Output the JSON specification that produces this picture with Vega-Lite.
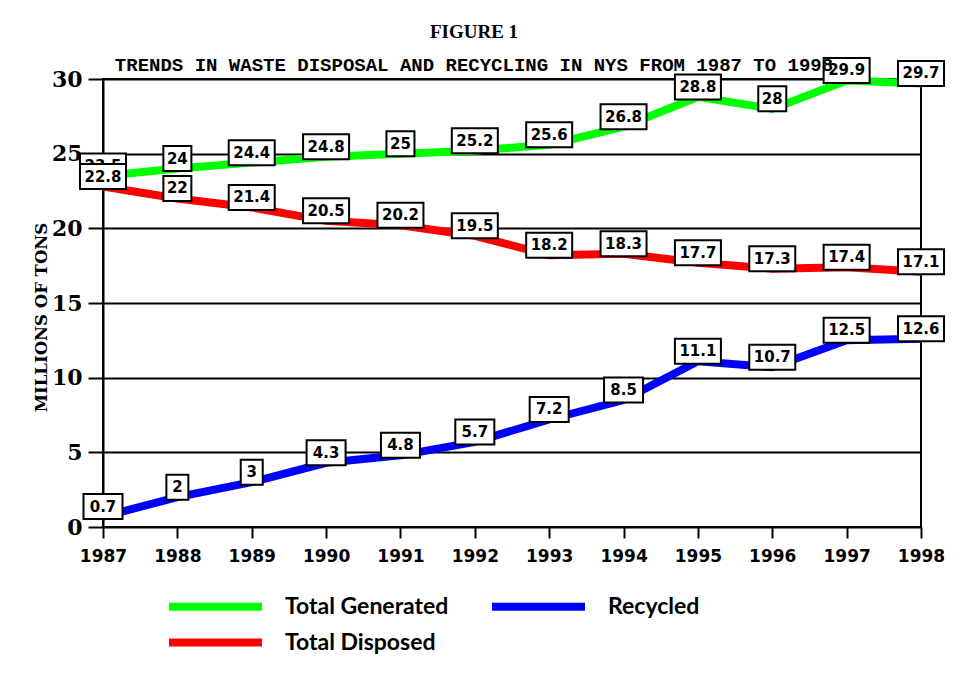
{
  "$schema": "https://vega.github.io/schema/vega-lite/v6.json",
  "autosize": {"type": "none"},
  "padding": {"left": 103, "top": 79, "right": 50, "bottom": 164},
  "width": 818,
  "height": 448,
  "background": "white",
  "config": {"view": {"stroke": "black", "strokeWidth": 2}},
  "title": {
    "text": "FIGURE 1",
    "subtitle": "TRENDS IN WASTE DISPOSAL AND RECYCLING IN NYS FROM 1987 TO 1998",
    "anchor": "middle",
    "frame": "group",
    "dx": -38,
    "font": "Liberation Serif",
    "fontSize": 19,
    "fontWeight": "bold",
    "color": "black",
    "subtitleFont": "Liberation Mono",
    "subtitleFontSize": 19,
    "subtitleFontWeight": "bold",
    "subtitleColor": "black",
    "subtitlePadding": 14,
    "offset": -21,
    "zindex": -1
  },
  "data": {
    "values": [
      {"year": 1987, "series": "Total Generated", "value": 23.5},
      {"year": 1988, "series": "Total Generated", "value": 24},
      {"year": 1989, "series": "Total Generated", "value": 24.4},
      {"year": 1990, "series": "Total Generated", "value": 24.8},
      {"year": 1991, "series": "Total Generated", "value": 25},
      {"year": 1992, "series": "Total Generated", "value": 25.2},
      {"year": 1993, "series": "Total Generated", "value": 25.6},
      {"year": 1994, "series": "Total Generated", "value": 26.8},
      {"year": 1995, "series": "Total Generated", "value": 28.8},
      {"year": 1996, "series": "Total Generated", "value": 28},
      {"year": 1997, "series": "Total Generated", "value": 29.9},
      {"year": 1998, "series": "Total Generated", "value": 29.7},
      {"year": 1987, "series": "Recycled", "value": 0.7},
      {"year": 1988, "series": "Recycled", "value": 2},
      {"year": 1989, "series": "Recycled", "value": 3},
      {"year": 1990, "series": "Recycled", "value": 4.3},
      {"year": 1991, "series": "Recycled", "value": 4.8},
      {"year": 1992, "series": "Recycled", "value": 5.7},
      {"year": 1993, "series": "Recycled", "value": 7.2},
      {"year": 1994, "series": "Recycled", "value": 8.5},
      {"year": 1995, "series": "Recycled", "value": 11.1},
      {"year": 1996, "series": "Recycled", "value": 10.7},
      {"year": 1997, "series": "Recycled", "value": 12.5},
      {"year": 1998, "series": "Recycled", "value": 12.6},
      {"year": 1987, "series": "Total Disposed", "value": 22.8},
      {"year": 1988, "series": "Total Disposed", "value": 22},
      {"year": 1989, "series": "Total Disposed", "value": 21.4},
      {"year": 1990, "series": "Total Disposed", "value": 20.5},
      {"year": 1991, "series": "Total Disposed", "value": 20.2},
      {"year": 1992, "series": "Total Disposed", "value": 19.5},
      {"year": 1993, "series": "Total Disposed", "value": 18.2},
      {"year": 1994, "series": "Total Disposed", "value": 18.3},
      {"year": 1995, "series": "Total Disposed", "value": 17.7},
      {"year": 1996, "series": "Total Disposed", "value": 17.3},
      {"year": 1997, "series": "Total Disposed", "value": 17.4},
      {"year": 1998, "series": "Total Disposed", "value": 17.1}
    ]
  },
  "transform": [
    {"calculate": "'' + length(toString(datum.value))", "as": "n"}
  ],
  "encoding": {
    "x": {
      "field": "year",
      "type": "quantitative",
      "scale": {"domain": [1987, 1998], "nice": false, "zero": false},
      "axis": {
        "values": [1987, 1988, 1989, 1990, 1991, 1992, 1993, 1994, 1995, 1996, 1997, 1998],
        "format": "d",
        "title": null,
        "grid": false,
        "domain": false,
        "tickSize": 11,
        "tickWidth": 2,
        "tickColor": "black",
        "labelFont": "DejaVu Sans",
        "labelFontWeight": "bold",
        "labelFontSize": 17,
        "labelColor": "black",
        "labelPadding": 10,
        "labelFlush": false,
        "labelOverlap": false
      }
    },
    "y": {
      "field": "value",
      "type": "quantitative",
      "scale": {"domain": [0, 30], "nice": false},
      "axis": {
        "values": [0, 5, 10, 15, 20, 25, 30],
        "title": "MILLIONS OF TONS",
        "grid": true,
        "gridColor": "black",
        "gridWidth": 2,
        "gridOpacity": 1,
        "domain": true,
        "domainColor": "black",
        "domainWidth": 2,
        "tickSize": 15,
        "tickWidth": 2,
        "tickColor": "black",
        "labelFont": "DejaVu Serif",
        "labelFontWeight": "bold",
        "labelFontSize": 22,
        "labelColor": "black",
        "labelPadding": 6,
        "titleFont": "DejaVu Serif",
        "titleFontSize": 16.5,
        "titleFontWeight": "bold",
        "titleColor": "black",
        "titlePadding": 2,
        "titleY": 238
      }
    }
  },
  "layer": [
    {
      "mark": {"type": "line", "strokeWidth": 8, "strokeCap": "butt"},
      "encoding": {
        "color": {
          "field": "series",
          "type": "nominal",
          "scale": {
            "domain": ["Total Generated", "Recycled", "Total Disposed"],
            "range": ["#00FF00", "#0000FF", "#FF0000"]
          },
          "legend": {
            "orient": "none",
            "direction": "horizontal",
            "legendX": 93,
            "legendY": 508,
            "columns": 2,
            "title": null,
            "symbolType": "M-3,0H3",
            "symbolSize": 961,
            "symbolStrokeWidth": 8,
            "labelFont": "Lato",
            "labelFontWeight": "bold",
            "labelFontSize": 23,
            "labelColor": "black",
            "labelOffset": 50,
            "labelLimit": 400,
            "columnPadding": 27,
            "rowPadding": -4
          }
        }
      }
    },
    {
      "transform": [{"filter": "datum.series != 'Total Disposed'"}],
      "mark": {"type": "point", "filled": true, "fill": "white", "stroke": "black", "strokeWidth": 2, "opacity": 1, "size": 2500, "yOffset": -10},
      "encoding": {
        "shape": {
          "field": "n",
          "type": "nominal",
          "scale": {
            "domain": ["1", "2", "3", "4"],
            "range": ["M-0.44,-0.5H0.44V0.5H-0.44Z", "M-0.56,-0.5H0.56V0.5H-0.56Z", "M-0.78,-0.5H0.78V0.5H-0.78Z", "M-0.92,-0.5H0.92V0.5H-0.92Z"]
          },
          "legend": null
        }
      }
    },
    {
      "transform": [{"filter": "datum.series != 'Total Disposed'"}],
      "mark": {"type": "text", "font": "DejaVu Sans", "fontWeight": "bold", "fontSize": 15, "color": "black", "baseline": "middle", "align": "center", "yOffset": -10},
      "encoding": {"text": {"field": "value", "type": "quantitative"}}
    },
    {
      "transform": [{"filter": "datum.series == 'Total Disposed'"}],
      "mark": {"type": "point", "filled": true, "fill": "white", "stroke": "black", "strokeWidth": 2, "opacity": 1, "size": 2500, "yOffset": -10},
      "encoding": {
        "shape": {
          "field": "n",
          "type": "nominal",
          "scale": {
            "domain": ["1", "2", "3", "4"],
            "range": ["M-0.44,-0.5H0.44V0.5H-0.44Z", "M-0.56,-0.5H0.56V0.5H-0.56Z", "M-0.78,-0.5H0.78V0.5H-0.78Z", "M-0.92,-0.5H0.92V0.5H-0.92Z"]
          },
          "legend": null
        }
      }
    },
    {
      "transform": [{"filter": "datum.series == 'Total Disposed'"}],
      "mark": {"type": "text", "font": "DejaVu Sans", "fontWeight": "bold", "fontSize": 15, "color": "black", "baseline": "middle", "align": "center", "yOffset": -10},
      "encoding": {"text": {"field": "value", "type": "quantitative"}}
    }
  ]
}
